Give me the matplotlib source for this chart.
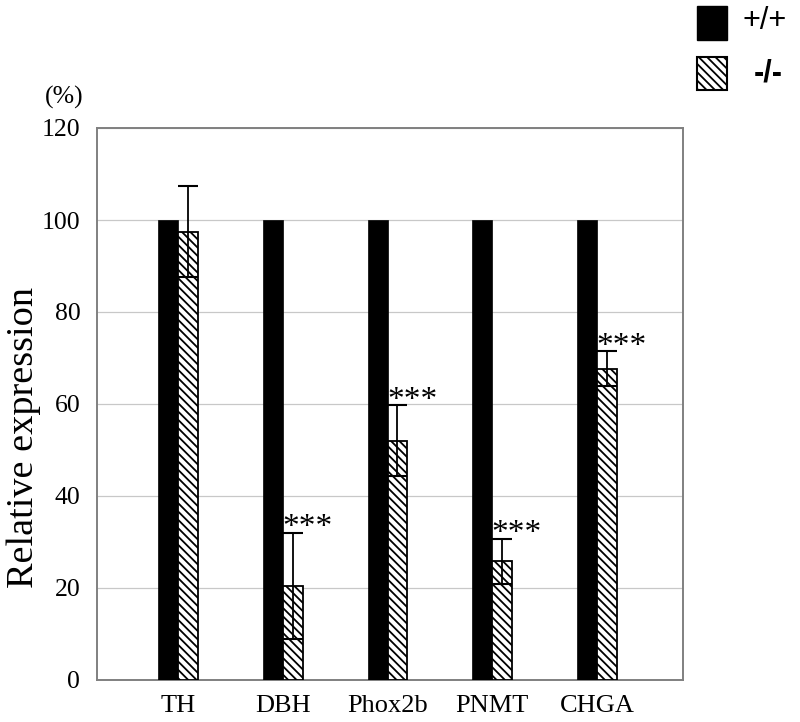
import matplotlib
matplotlib.use("Agg")
import matplotlib.pyplot as plt
import numpy as np
from matplotlib.patches import Rectangle

categories = ["TH", "DBH", "Phox2b", "PNMT", "CHGA"]
wt_values = [100, 100, 100, 100, 100]
ko_values = [97.5, 20.5, 52.0, 25.8, 67.7]
ko_errors = [9.8, 11.5, 7.7, 4.9, 3.8]
ko_signif = ["", "***", "***", "***", "***"]
legend_labels = ["+/+", "-/-"]

plt.rcParams['font.family'] = ['Liberation Serif', 'DejaVu Serif']
plt.rcParams['hatch.linewidth'] = 1.3

fig = plt.figure(figsize=(8, 7.22), dpi=100)
ax = fig.add_axes([97/800, 1-680/722, (683-97)/800, (680-128)/722])

x = np.arange(len(categories))
w = 0.19
ax.bar(x - w/2, wt_values, w, color='black', edgecolor='black', linewidth=0.5, zorder=3)
ax.bar(x + w/2, ko_values, w, color='white', edgecolor='black', hatch='\\\\\\\\', linewidth=1.3, zorder=3)
ax.errorbar(x + w/2, ko_values, yerr=ko_errors, fmt='none', ecolor='black', elinewidth=1.3,
            capsize=7, capthick=1.5, zorder=4)
for xi, v, e, s in zip(x, ko_values, ko_errors, ko_signif):
    if s:
        ax.text(xi + w/2 + 0.14, v + e - 0.8, s, ha='center', va='baseline', fontsize=24)

ax.set_xlim(-0.773, 4.82)
ax.set_ylim(0, 120)
ax.set_yticks(np.arange(0, 121, 20))
ax.set_xticks(x)
ax.set_xticklabels(categories, fontsize=19)
ax.tick_params(axis='y', labelsize=18.5, length=0, pad=12)
ax.tick_params(axis='x', length=0, pad=11)
ax.yaxis.grid(True, color='#c8c8c8', linewidth=0.9, zorder=0)
ax.set_axisbelow(True)
for sp in ax.spines.values():
    sp.set_color('#808080')
    sp.set_linewidth(1.4)

fig.text(24/800, 1-437/722, "Relative expression", fontsize=27.5, rotation=90,
         ha='center', va='center')
fig.text(64/800, 1-97/722, "(%)", fontsize=18.5, ha='center', va='center')

# legend
fig.patches.append(Rectangle((697/800, 1-40/722), 30/800, 34/722, transform=fig.transFigure,
                             facecolor='black', edgecolor='black'))
fig.patches.append(Rectangle((697/800, 1-90/722), 30/800, 33/722, transform=fig.transFigure,
                             facecolor='white', edgecolor='black', hatch='\\\\\\\\', linewidth=1.5))
fig.text(742/800, 1-21/722, legend_labels[0], fontsize=22, ha='left', va='center',
         family=['Liberation Sans', 'DejaVu Sans'])
fig.text(768/800, 1-74/722, legend_labels[1], fontsize=22, ha='center', va='center',
         family=['Liberation Sans', 'DejaVu Sans'], weight='bold')

fig.savefig("out.png", dpi=100)
